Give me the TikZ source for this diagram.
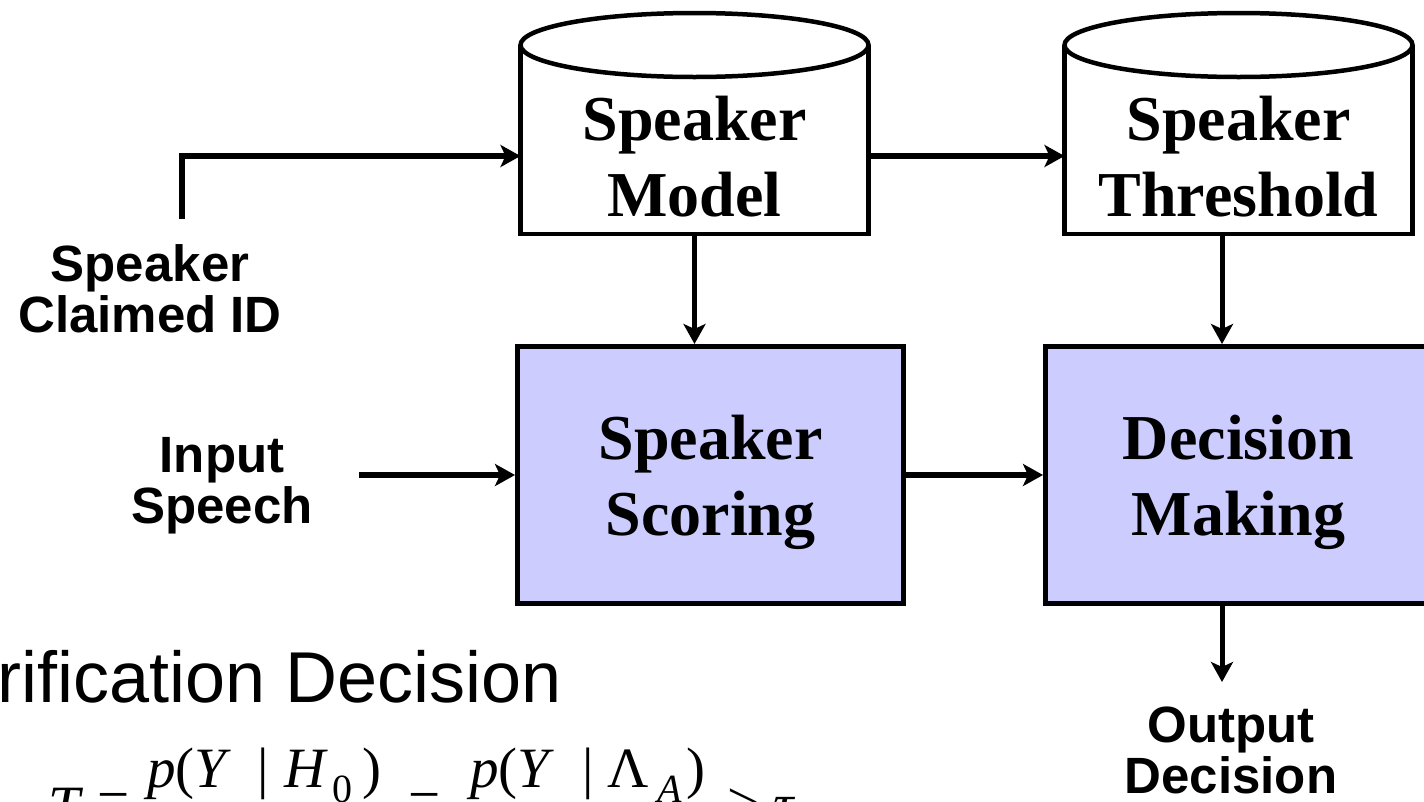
\documentclass[tikz,border=0pt]{standalone}
\usepackage{fontspec}
\setmainfont{Liberation Serif}
\setsansfont{Liberation Sans}
\usetikzlibrary{arrows.meta}
\definecolor{procfill}{HTML}{CCCCFF}
\newcommand\subsize{\fontsize{40}{40}\selectfont}

\begin{document}
\begin{tikzpicture}[x=1pt,y=-1pt,
  conn/.style={line width=6pt, -{Stealth[length=20pt,width=22pt,inset=5pt]}},
  vconn/.style={conn, line width=5pt},
  lbl/.style={font=\sffamily\bfseries\fontsize{51}{51}\selectfont, align=center, inner sep=0pt},
  boxtext/.style={font=\bfseries\fontsize{64}{76}\selectfont, align=center, text depth=0pt},
  procbox/.style={boxtext, draw, line width=5pt, fill=procfill,
                  minimum width=386pt, minimum height=257pt},
  cylbody/.style={boxtext, line width=4.5pt, minimum width=343.5pt, minimum height=151.5pt},
  cylline/.style={line width=4.5pt},
  mathtext/.style={font=\fontsize{57}{57}\selectfont, inner sep=0pt, anchor=base west},
]
\useasboundingbox (0,0) rectangle (1424,801);
\clip (0,0) rectangle (1424,801);
\fill[white] (0,0) rectangle (1424,801);

% database cylinders
\node[cylbody] (model) at (694.5,156) {Speaker\\Model};
\draw[cylline] ([yshift=33pt]model.north west) -- (model.south west)
               -- (model.south east) -- ([yshift=33pt]model.north east);
\draw[cylline, fill=white] ([yshift=33pt]model.north) ellipse [x radius=174pt, y radius=32pt];

\node[cylbody] (thresh) at (1238.5,156) {Speaker\\Threshold};
\draw[cylline] ([yshift=33pt]thresh.north west) -- (thresh.south west)
               -- (thresh.south east) -- ([yshift=33pt]thresh.north east);
\draw[cylline, fill=white] ([yshift=33pt]thresh.north) ellipse [x radius=174pt, y radius=32pt];

% processing blocks
\node[procbox] (scoring) at (710.5,475) {Speaker\\Scoring};
\node[procbox] (decision) at (1238.5,475) {Decision\\Making};

% side labels
\node[lbl] (claimlbl) at (150,289) {Speaker\\Claimed ID};
\node[lbl] (inlbl) at (222,486) {Input\\Speech};
\node[lbl] (outlbl) at (1231,750) {Output\\Decision};

% free ends of the connectors
\coordinate (cid) at (182,219);
\coordinate (inp) at (359,475);
\coordinate (outend) at (1222,682);

% connectors
\draw[conn] (cid) |- (model.west);
\draw[conn] (model.east) -- (thresh.west);
\draw[vconn] (model.south) -- (model.south |- scoring.north);
\draw[vconn] ([xshift=-16.5pt]thresh.south) -- ([xshift=-16.5pt]thresh.south |- decision.north);
\draw[conn] (inp) -- (scoring.west);
\draw[conn] (scoring.east) -- (decision.west);
\draw[vconn] ([xshift=-16.5pt]decision.south) -- (outend);

% heading and decision rule
\node[anchor=base west, inner sep=0pt, font=\sffamily\fontsize{72}{72}\selectfont]
  (heading) at (-3,702) {rification Decision};

\node[mathtext] (tvar) at (48,825) {\textit{T}};
\node[mathtext] (eqa) at (97,819) {=};
\node[mathtext] (numa) at (147,787)
  {\textit{p}(\textit{Y}\hspace{26pt}|\hspace{16pt}\textit{H}\hspace{4pt}\raisebox{-15pt}{\subsize 0}\hspace{10pt})};
\node[mathtext] (eqb) at (408,819) {=};
\node[mathtext] (numb) at (470,787)
  {\textit{p}(\textit{Y}\hspace{28pt}|\hspace{14pt}Λ\hspace{8pt}\raisebox{-15pt}{\subsize\textit{A}}\hspace{5pt})};
\node[mathtext] (gt) at (727,821) {>};
\node[mathtext] (tauv) at (773,823) {\textit{τ}};
\end{tikzpicture}
\end{document}
